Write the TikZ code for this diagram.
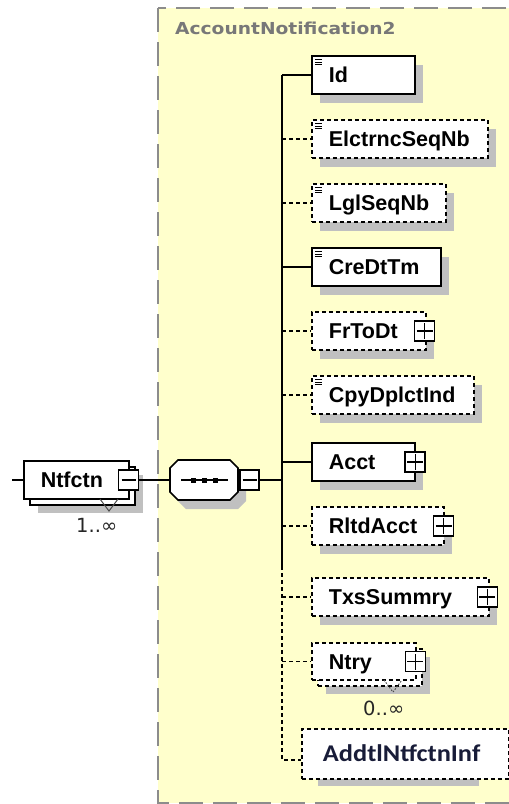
\documentclass[tikz,border=0pt]{standalone}
\usepackage{fontspec}
\usepackage{tikz}
\usepackage{xcolor}
\usetikzlibrary{shapes,shadows}

\newfontfamily\elemfont{Liberation Sans}
\newfontfamily\titlefont{DejaVu Sans}[FakeStretch=1.13]
\newfontfamily\multfont{DejaVu Sans}
\newfontfamily\infofont{Carlito}[FakeStretch=1.1]

\definecolor{paneyellow}{RGB}{255,255,204}
\definecolor{panegray}{RGB}{140,140,140}
\definecolor{titlegray}{RGB}{120,120,120}
\definecolor{shadowgray}{RGB}{192,192,192}
\definecolor{infoblue}{RGB}{24,28,56}

\begin{document}
\begin{tikzpicture}[x=1pt, y=-1pt,
	link/.style={line width=1.5pt},
	opt/.style={dash pattern=on 4pt off 3pt, line width=1.8pt},
	box/.style={draw=black, fill=white, line width=1.6pt, anchor=west, inner sep=0pt, minimum height=38pt, text height=15pt, text depth=0pt, align=left, font=\elemfont\bfseries\fontsize{21.5pt}{22pt}\selectfont},
	elem/.style={box, drop shadow={shadow xshift=8pt, shadow yshift=-9pt, fill=shadowgray, opacity=1}},
	elems/.style={box, drop shadow={shadow xshift=14pt, shadow yshift=-14pt, fill=shadowgray, opacity=1}, copy shadow={shadow xshift=6pt, shadow yshift=-6pt, draw=black, fill=white, opacity=1}},
	annot/.style={path picture={
		\foreach \d in {3.5,6,8.5}
			\draw [solid, line width=0.9pt] ([xshift=3pt, yshift=-\d pt]path picture bounding box.north west) -- ++(7pt,0);
	}},
	switchbox/.style={draw=black, fill=white, solid, line width=1.3pt, inner sep=0pt, minimum width=20pt, minimum height=20pt},
	expandbox/.style={switchbox, path picture={
		\draw [line width=1.2pt] ([xshift=-8pt]path picture bounding box.center) -- ([xshift=8pt]path picture bounding box.center);
		\draw [line width=1.2pt] ([yshift=-8pt]path picture bounding box.center) -- ([yshift=8pt]path picture bounding box.center);
	}},
	collapsebox/.style={switchbox, path picture={
		\draw [line width=1.2pt] ([xshift=-7pt]path picture bounding box.center) -- ([xshift=7pt]path picture bounding box.center);
	}},
	mult/.style={anchor=base west, inner sep=0pt, text={black!85}, font=\multfont\fontsize{19.5pt}{20pt}\selectfont},
	notch/.style={line width=1pt, black!70}]
	\clip (0,0) rectangle (509,804);
	\draw [fill=paneyellow, draw=panegray, line width=2pt, dash pattern=on 24pt off 10pt] (158,8) rectangle (540,803);
	\node [anchor=base west, inner sep=0pt, text=titlegray, font=\titlefont\bfseries\fontsize{16.5pt}{17pt}\selectfont] (title) at (175,34) {AccountNotification2};

	\node [elems, text width=105pt] (0) at (23,480) {\hspace*{17pt}Ntfctn};
	\draw [notch] (100,499) -- (109,511) -- (118,499);
	\node [collapsebox] (0m) at ([xshift=-1pt]0.east) {};
	\node [mult] (0n) at (76,532) {1..∞};

	\fill [shadowgray] (186,469) -- (238,469) -- (246,477) -- (246,501) -- (238,509) -- (186,509) -- (178,501) -- (178,477) -- cycle;
	\draw [fill=white, line width=1.6pt] (178,460) -- (230,460) -- (238,468) -- (238,492) -- (230,500) -- (178,500) -- (170,492) -- (170,468) -- cycle;
	\node [inner sep=0pt, minimum width=68pt, minimum height=40pt] (1) at (204,480) {};
	\draw [line width=1.5pt] (181,480) -- (228,480);
	\foreach \x in {193,204,215}
		\fill (\x-2.5,477.5) rectangle (\x+2.5,482.5);
	\node [collapsebox, minimum width=19pt] (1m) at (249.5,480) {};

	\node [elem, annot, text width=103pt] (2) at (311,75) {\hspace*{17pt}Id};
	\node [elem, annot, opt, text width=176pt] (3) at (311,139) {\hspace*{17pt}ElctrncSeqNb};
	\node [elem, annot, opt, text width=134pt] (4) at (311,203) {\hspace*{17pt}LglSeqNb};
	\node [elem, annot, text width=129pt] (5) at (311,267) {\hspace*{17pt}CreDtTm};
	\node [elem, opt, text width=114pt] (6) at (311,331) {\hspace*{17pt}FrToDt};
	\node [elem, annot, opt, text width=162pt] (7) at (311,395) {\hspace*{17pt}CpyDplctInd};
	\node [elem, text width=103pt] (8) at (311,462) {\hspace*{17pt}Acct};
	\node [elem, opt, text width=132pt] (9) at (311,526) {\hspace*{17pt}RltdAcct};
	\node [elem, opt, text width=177pt] (10) at (311,597) {\hspace*{17pt}TxsSummry};
	\node [elems, opt, text width=104pt, minimum height=37pt] (11) at (311,661.5) {\hspace*{17pt}Ntry};
	\draw [notch, dash pattern=on 1.5pt off 1.5pt] (384,680) -- (393,692) -- (402,680);
	\node [mult] (11n) at (363,715) {0..∞};
	\fill [shadowgray] (318,770) rectangle (479,786);
	\node [box, opt, text width=207pt, minimum height=50pt, text height=15.5pt, text=infoblue, font=\infofont\bfseries\fontsize{24pt}{25pt}\selectfont] (12) at (301,754) {\hspace*{21pt}AddtlNtfctnInf};

	\node [expandbox] (6p) at ([xshift=-2pt]6.east) {};
	\node [expandbox] (8p) at ([xshift=-0.5pt]8.east) {};
	\node [expandbox] (9p) at ([xshift=-1pt]9.east) {};
	\node [expandbox] (10p) at ([xshift=-2.5pt]10.east) {};
	\node [expandbox] (11p) at ([xshift=-1.5pt]11.east) {};

	\coordinate (in) at (12,480);
	\coordinate (t) at (282,480);
	\coordinate (s) at (282,566);
	\draw [link] (in) -- (0.west);
	\draw [link] (0m.east) -- (1.west);
	\draw [link] (1m.east) -- (t);
	\draw [link] (t |- 2.west) -- (s);
	\draw [link, opt] (s) |- ([yshift=-6pt]12.west);
	\draw [link] (t |- 2.west) -- (2.west);
	\draw [link, opt] (t |- 3.west) -- (3.west);
	\draw [link, opt] (t |- 4.west) -- (4.west);
	\draw [link] (t |- 5.west) -- (5.west);
	\draw [link, opt] (t |- 6.west) -- (6.west);
	\draw [link, opt] (t |- 7.west) -- (7.west);
	\draw [link] (t |- 8.west) -- (8.west);
	\draw [link, opt] (t |- 9.west) -- (9.west);
	\draw [link, opt] (t |- 10.west) -- (10.west);
	\draw [link, opt] (t |- 11.west) -- (11.west);
\end{tikzpicture}
\end{document}
